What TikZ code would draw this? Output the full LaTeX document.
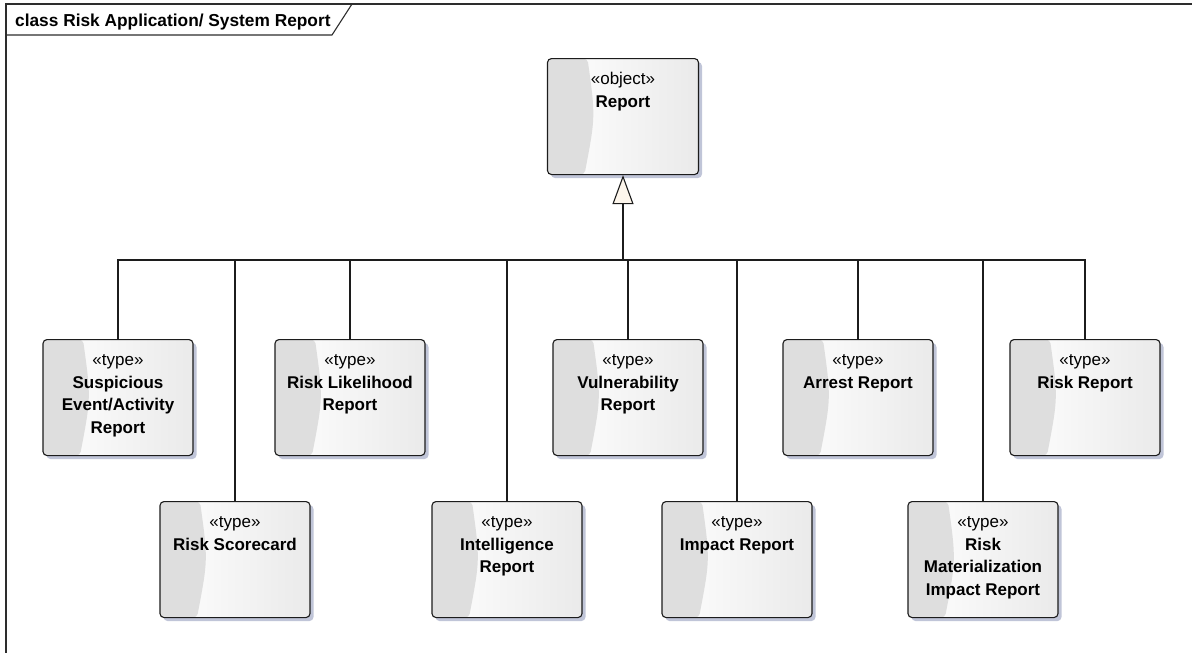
\documentclass[tikz,border=0pt]{standalone}
\usepackage{fontspec}
\setmainfont{Liberation Sans}
\usepackage{tikz}
\usetikzlibrary{arrows.meta,shadows}
\definecolor{boxline}{RGB}{28,28,28}
\definecolor{frameline}{RGB}{45,45,45}
\definecolor{crescent}{RGB}{222,222,222}
\definecolor{boxright}{RGB}{234,234,234}
\definecolor{shadowblue}{RGB}{176,182,206}
\definecolor{tipfill}{RGB}{253,246,236}
\newcommand{\umltext}[2]{\parbox[t][116pt][t]{148pt}{\centering
  \fontsize{17}{22.5}\selectfont\rule{0pt}{26pt}«#1»\\\textbf{#2}}}

\tikzset{
  umlbox/.style={draw=boxline, line width=1.1pt, rounded corners=4pt,
    minimum width=150pt, minimum height=116pt, inner sep=0pt, anchor=north,
    left color=white, right color=boxright,
    drop shadow={fill=shadowblue, opacity=0.8, shadow xshift=3.5pt, shadow yshift=-3.5pt},
    path picture={\fill[crescent] (path picture bounding box.north west)
      -- ([xshift=40pt]path picture bounding box.north west)
      .. controls ([xshift=48pt]path picture bounding box.west)
      .. ([xshift=37pt]path picture bounding box.south west)
      -- (path picture bounding box.south west) -- cycle;}},
  conn/.style={draw=boxline, line width=1.1pt},
  gen/.style={conn, -{Triangle[width=21pt, length=29pt, fill=tipfill]}}
}

\begin{document}
\begin{tikzpicture}[x=1pt, y=-1pt]
  \useasboundingbox (0,0) rectangle (1192,653);

  % frame and title tab
  \draw[frameline, line width=1.3pt] (6,653) -- (6,4) -- (1192,4);
  \draw[frameline, line width=1.1pt] (6,35) -- (332,35) -- (352,4);
  \node[anchor=base west, inner sep=0pt] (title) at (15,27)
    {\fontsize{17.3}{20}\selectfont\bfseries class Risk Application/ System Report};

  % parent
  \node[umlbox, minimum width=151pt] (report) at (623,58) {\umltext{object}{Report}};

  % first row
  \node[umlbox] (sear) at (118,339) {\umltext{type}{Suspicious\\Event/Activity\\Report}};
  \node[umlbox] (likelihood) at (350,339) {\umltext{type}{Risk Likelihood\\Report}};
  \node[umlbox] (vuln) at (628,339) {\umltext{type}{Vulnerability\\Report}};
  \node[umlbox] (arrest) at (858,339) {\umltext{type}{Arrest Report}};
  \node[umlbox] (riskrep) at (1085,339) {\umltext{type}{Risk Report}};

  % second row
  \node[umlbox] (scorecard) at (235,501) {\umltext{type}{Risk Scorecard}};
  \node[umlbox] (intel) at (507,501) {\umltext{type}{Intelligence\\Report}};
  \node[umlbox] (impact) at (737,501) {\umltext{type}{Impact Report}};
  \node[umlbox] (materialization) at (983,501) {\umltext{type}{Risk\\Materialization\\Impact Report}};

  % generalization tree
  \coordinate (bus) at (623,260);
  \foreach \child in {sear,scorecard,likelihood,intel,vuln,impact,arrest,materialization,riskrep}
    \draw[conn] (\child.north) |- (bus);
  \draw[gen] (bus) -- (report.south);
\end{tikzpicture}
\end{document}
